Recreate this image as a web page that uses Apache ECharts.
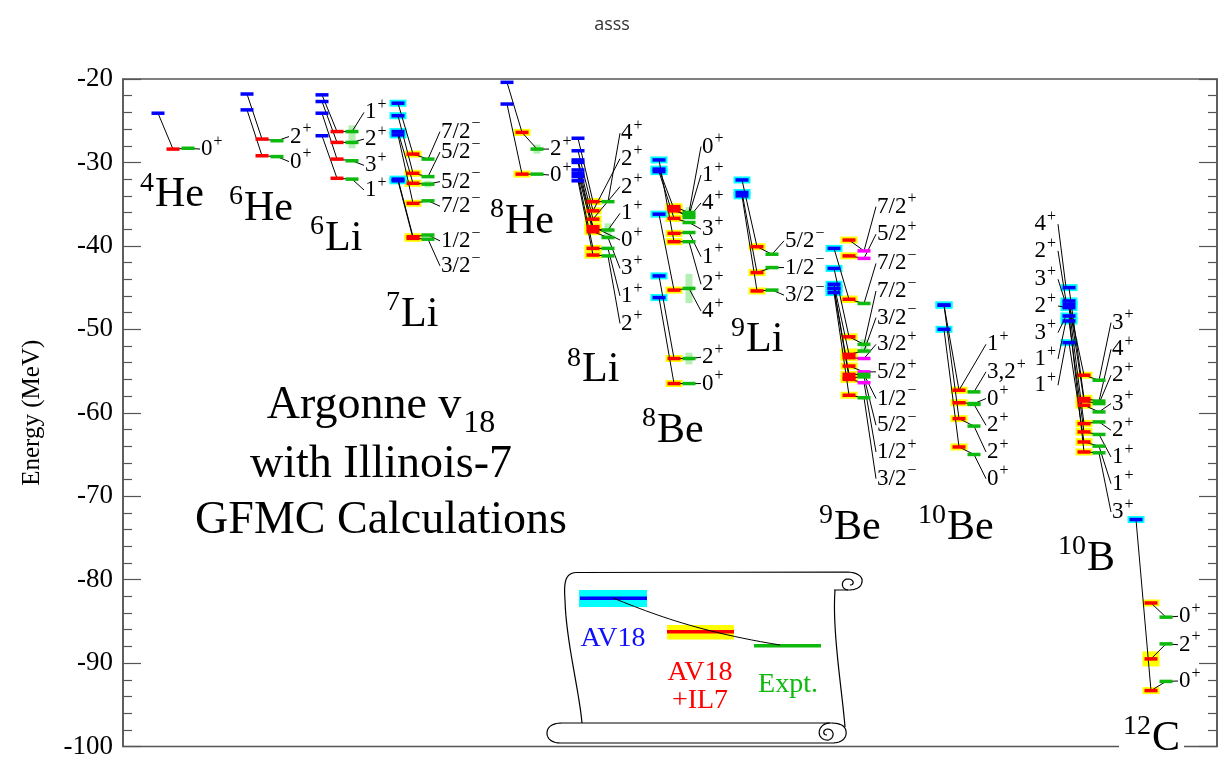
<!DOCTYPE html>
<html><head><meta charset="utf-8">
<script src="https://cdn.jsdelivr.net/npm/echarts@6/dist/echarts.min.js"></script>
<style>html,body{margin:0;padding:0;background:#fff}#c{width:1224px;height:760px}</style>
</head><body><div id="c"></div><script>
// ---------------- DATA (energies in MeV) ----------------
const yTickMin = -100, yTickMax = -20, yTickStep = 10;

const he4_jpi = ['0+'];
const he4_av18 = [-24.1];
const he4_il7 = [-28.4];
const he4_expt = [-28.3];

const he6_jpi = ['2+','0+'];
const he6_av18 = [-21.8,-23.7];
const he6_il7 = [-27.2,-29.2];
const he6_expt = [-27.4,-29.3];

const li6_jpi = ['1+','2+','3+','1+'];
const li6_av18 = [-21.9,-22.7,-24.1,-26.8];
const li6_il7 = [-26.3,-27.6,-29.6,-31.9];
const li6_expt = [-26.3,-27.6,-29.8,-32.0];
const li6_exptWidth = [1.5,1.4,0,0];

const li7_jpi = ['7/2-','5/2-','5/2-','7/2-','1/2-','3/2-'];
const li7_av18 = [-22.9,-24.4,-26.3,-26.7,-32.0,-32.2];
const li7_av18Err = [0.1,0.1,0.25,0.25,0.2,0.2];
const li7_il7 = [-29.0,-31.3,-32.5,-34.9,-38.9,-39.1];
const li7_il7Err = [0.2,0.2,0.2,0.35,0.15,0.15];
const li7_expt = [-29.6,-31.7,-32.6,-34.6,-38.7,-39.2];
const li7_exptWidth = [0,0,0.8,0,0,0];

const he8_jpi = ['2+','0+'];
const he8_av18 = [-20.4,-23.0];
const he8_il7 = [-26.4,-31.4];
const he8_il7Err = [0.4,0.2];
const he8_expt = [-28.4,-31.4];
const he8_exptWidth = [1.1,0];

const li8_jpi = ['4+','2+','2+','1+','0+','3+','1+','2+'];
const li8_av18 = [-27.1,-28.6,-29.7,-30.0,-30.9,-31.3,-31.7,-32.2];
const li8_il7 = [-34.7,-35.8,-36.8,-38.0,-37.7,-38.3,-40.3,-41.1];
const li8_il7Err = [0.35,0.2,0.2,0.4,0.4,0.3,0.25,0.25];
const li8_expt = [-34.7,null,null,-38.1,null,-39.0,-40.3,-41.2];
const li8_exptWidth = [0,0,0,1.6,0,0,0,0];

const be8_jpi = ['0+','1+','4+','3+','1+','2+','4+','2+','0+'];
const be8_av18 = [null,null,-30.8,-31.1,null,-29.7,-36.2,-43.6,-46.2];
const be8_av18Err = [0,0,0.2,0.2,0,0.2,0.25,0.15,0.15];
const be8_il7 = [-35.3,-35.8,-35.6,-36.7,-38.5,-39.5,-45.3,-53.5,-56.5];
const be8_il7Err = [0.35,0.35,0.35,0.3,0.2,0.2,0.4,0.25,0.2];
const be8_expt = [-36.0,-36.3,-36.6,-37.2,-38.4,-39.5,-45.1,-53.5,-56.5];
const be8_exptWidth = [1.3,0,0,0,0,0,3.5,1.4,0];

const li9_jpi = ['5/2-','1/2-','3/2-'];
const li9_av18 = [-32.1,-33.6,-34.0];
const li9_av18Err = [0.3,0.3,0.3];
const li9_il7 = [-40.1,-43.2,-45.4];
const li9_il7Err = [0.4,0.4,0.15];
const li9_expt = [-41.0,-42.6,-45.3];

const be9_jpi = ['7/2+','5/2+','7/2-','7/2-','3/2-','3/2+','5/2+','1/2-','5/2-','1/2+','3/2-'];
const be9_av18 = [null,null,-40.3,-42.7,-44.6,null,null,-45.1,-45.1,null,-45.6];
const be9_av18Err = [0,0,0.3,0.25,0.25,0,0,0.25,0.25,0,0.25];
const be9_il7 = [-39.3,-41.2,-46.4,-50.9,-53.0,-53.4,-54.4,-55.4,-55.8,-56.0,-57.9];
const be9_il7Err = [0.2,0.2,0.45,0.25,0.7,0.3,0.3,0.3,0.4,0.3,0.25];
const be9_expt = [-40.6,-41.5,-46.9,-51.8,-52.6,-53.5,-55.1,-55.4,-55.7,-56.4,-58.2];
const be9_exptWidth = [0,0,0,1.2,0.6,0,0,0,0,0,0];

const be10_jpi = ['1+','3,2+','0+','2+','2+','0+'];
const be10_av18 = [-47.1,null,null,null,-47.1,-50.0];
const be10_av18Err = [0.25,0,0,0,0.25,0.25];
const be10_il7 = [-57.3,null,-58.8,null,-60.7,-64.1];
const be10_il7Err = [0.4,0,0.25,0,0.2,0.35];
const be10_expt = [null,-57.5,-58.9,-59.0,-61.6,-65.0];

const b10_jpi = ['3+','4+','2+','3+','2+','1+','1+','3+'];
const b10_av18 = [-47.0,-45.0,-46.6,null,-47.4,-49.0,-51.6,-48.4];
const b10_av18Err = [0.35,0.4,0.35,0,0.35,0.35,0.4,0.35];
const b10_il7 = [-55.5,-58.3,-58.6,-59.1,-61.3,-62.3,-63.5,-64.7];
const b10_il7Err = [0.4,0.45,0.45,0.4,0.45,0.45,0.45,0.4];
const b10_expt = [-56.1,-58.6,-58.9,-59.9,-61.1,-62.6,-64.0,-64.8];
const b10_av18Jpi = ['4+','2+','3+','2+','3+','1+','1+'];

const c12_jpi = ['0+','2+','0+'];
const c12_av18 = [null,null,-72.8];
const c12_av18Err = [0,0,0.3];
const c12_il7 = [-82.8,-89.5,-93.3];
const c12_il7Err = [0.4,0.9,0.35];
const c12_expt = [-84.5,-87.7,-92.2];

const nucSup = ['4','6','6','7','8','8','8','9','9','10','10','12'];
const nucEl  = ['He','He','Li','Li','He','Li','Be','Li','Be','Be','B','C'];

// ---------------- LAYOUT (positions / styles) ----------------
const layout = {
  he4: {x:158,  labelE:[-28.4], name:[154,-33.93]},
  he6: {x:247,  labelE:[-26.9,-29.9], name:[243,-35.53]},
  li6: {x:322,  labelE:[-24.0,-27.2,-30.35,-33.3], name:[324,-39.12]},
  li7: {x:398,  labelE:[-26.3,-28.75,-32.3,-35.25,-39.4,-42.4], name:[400,-48.23]},
  he8: {x:507,  labelE:[-28.4,-31.5], name:[504,-37.09]},
  li8: {x:578,  labelE:[-26.5,-29.55,-32.9,-36.1,-39.3,-42.7,-46.0,-49.3], name:[581,-54.91]},
  be8: {x:659,  labelE:[-28.1,-31.5,-34.85,-38.0,-41.3,-44.6,-47.8,-53.35,-56.5], name:[656,-62.2]},
  li9: {x:742,  labelE:[-39.4,-42.6,-45.9], name:[745,-51.33]},
  be9: {x:834,  labelE:[-35.3,-38.6,-42.1,-45.4,-48.6,-51.8,-55.1,-58.3,-61.5,-64.7,-67.9], name:[833,-73.78], magentaPositive:true},
  be10:{x:944,  labelE:[-51.8,-55.1,-58.3,-61.5,-64.7,-67.9], name:[946,-73.78]},
  b10: {x:1069, labelE:[-49.2,-52.4,-55.5,-58.9,-62.1,-65.3,-68.5,-71.9], leftLabelE:[-37.4,-40.6,-44.0,-47.2,-50.4,-53.55,-56.7], name:[1086,-77.48]},
  c12: {x:1136, labelE:[-84.4,-87.8,-92.15], name:[1151,-99.09], whiteBox:true}
};
const DX_RED = 15, DX_GREEN = 30, DX_LABEL = 43, BAR_W = 13, BAR_H = 3.5;
const FONT = '"Liberation Serif","Times New Roman",serif';
const LBL_FS = 23, SGN_FS = 16, EL_FS = 42, SUP_FS = 28;
const COLORS = {blue:'#0000ff', red:'#ff0000', green:'#0cb90c', magenta:'#ff00ff'};
const HALO = ['#00ffff', '#ffff00', '#b4efb4'];

const keys = ['he4','he6','li6','li7','he8','li8','be8','li9','be9','be10','b10','c12'];
function opt(name) { try { return eval(name); } catch (e) { return []; } }
const src = {};
keys.forEach(k => {
  src[k] = {
    jpi: eval(k + '_jpi'), av18: eval(k + '_av18'), il7: eval(k + '_il7'), expt: eval(k + '_expt'),
    av18Err: opt(k + '_av18Err'), il7Err: opt(k + '_il7Err'), exptWidth: opt(k + '_exptWidth')
  };
});

// ---------------- build series data ----------------
const haloData = [], barData = [], connData = [], labelData = [], labelText = [], labelAlign = [];
keys.forEach(k => {
  const n = src[k], L = layout[k];
  const xb = L.x, xr = L.x + DX_RED, xg = L.x + DX_GREEN, xl = L.x + DX_LABEL;
  n.jpi.forEach((j, i) => {
    const a = n.av18[i], r = n.il7[i], g = n.expt[i];
    if (a != null) { barData.push([xb, a, 0]); if (n.av18Err[i]) haloData.push([xb, a, n.av18Err[i], 0]); }
    if (r != null) { barData.push([xr, r, 1]); if (n.il7Err[i]) haloData.push([xr, r, n.il7Err[i], 1]); }
    if (g != null) {
      const mag = L.magentaPositive && j.slice(-1) === '+';
      barData.push([xg, g, mag ? 3 : 2]);
      if (n.exptWidth[i]) haloData.push([xg, g, n.exptWidth[i] / 2, 2]);
    }
    if (a != null && r != null) connData.push([xb, a, xr, r]);
    if (r != null && g != null) connData.push([xr, r, xg, g]);
    const last = g != null ? [xg, g] : [xr, r];
    connData.push([last[0], last[1], xl - 1, L.labelE[i]]);
    labelData.push([xl, L.labelE[i]]); labelText.push(j); labelAlign.push('left');
  });
  if (k === 'b10') {
    const sorted = n.av18.filter(v => v != null).sort((p, q) => q - p);
    b10_av18Jpi.forEach((j, i) => {
      const xlr = xb - BAR_W;
      connData.push([xlr + 2, L.leftLabelE[i], xb - 3, sorted[i]]);
      labelData.push([xlr, L.leftLabelE[i]]); labelText.push(j); labelAlign.push('right');
    });
  }
});
const nameData = keys.map(k => [layout[k].name[0], layout[k].name[1]]);

// ---------------- helpers ----------------
const mctx = document.createElement('canvas').getContext('2d');
function tw(s, size) { mctx.font = size + 'px ' + FONT; return mctx.measureText(s).width; }
function txt(x, y, s, size, color, align, valign) {
  return {type:'text', x:x, y:y, style:{text:s, fontSize:size, fontFamily:FONT, fill:color,
    align:align, verticalAlign:valign, textAlign:align, textVerticalAlign:valign}};
}
function bez(p0, p1, p2, p3, n) {
  const pts = [];
  for (let i = 0; i <= n; i++) {
    const t = i / n, u = 1 - t;
    pts.push([u*u*u*p0[0] + 3*u*u*t*p1[0] + 3*u*t*t*p2[0] + t*t*t*p3[0],
              u*u*u*p0[1] + 3*u*u*t*p1[1] + 3*u*t*t*p2[1] + t*t*t*p3[1]]);
  }
  return pts;
}
function chain(segs) {
  let pts = [];
  segs.forEach(s => {
    const p = s.length === 2 ? [s[0], s[1]] : bez(s[0], s[1], s[2], s[3], 16);
    pts = pts.length ? pts.concat(p.slice(1)) : p;
  });
  return pts;
}

// ---------------- render functions ----------------
function renderConn(params, api) {
  const p1 = api.coord([api.value(0), api.value(1)]);
  const p2 = api.coord([api.value(2), api.value(3)]);
  return {type:'line', shape:{x1:p1[0], y1:p1[1], x2:p2[0], y2:p2[1]}, style:{stroke:'#000', lineWidth:1}};
}
function renderHalo(params, api) {
  const x = api.value(0), e = api.value(1), h = api.value(2), k = api.value(3);
  const pt = api.coord([x, e + h]), pb = api.coord([x, e - h]), pc = api.coord([x, e]);
  let ht = pb[1] - pt[1];
  const w = k === 2 ? 7 : BAR_W + 4;
  if (k !== 2) ht = Math.max(ht, 7);
  return {type:'rect', shape:{x:pc[0] - w/2, y:pc[1] - ht/2, width:w, height:ht}, style:{fill:HALO[k]}};
}
function renderBar(params, api) {
  const p = api.coord([api.value(0), api.value(1)]);
  const c = [COLORS.blue, COLORS.red, COLORS.green, COLORS.magenta][api.value(2)];
  return {type:'rect', shape:{x:p[0] - BAR_W/2, y:p[1] - BAR_H/2, width:BAR_W, height:BAR_H}, style:{fill:c}};
}
function renderLabel(params, api) {
  const i = params.dataIndex;
  const p = api.coord([api.value(0), api.value(1)]);
  const s = labelText[i];
  const main = s.slice(0, -1), sign = s.slice(-1) === '-' ? '\u2212' : '+';
  const mw = tw(main, LBL_FS), sw = tw(sign, SGN_FS);
  const x0 = labelAlign[i] === 'left' ? p[0] : p[0] - mw - sw - 1;
  return {type:'group', children:[
    txt(x0, p[1], main, LBL_FS, '#000', 'left', 'middle'),
    txt(x0 + mw + 1, p[1] - 7.5, sign, SGN_FS, '#000', 'left', 'middle')
  ]};
}
function renderName(params, api) {
  const i = params.dataIndex;
  const p = api.coord([api.value(0), api.value(1)]);
  const children = [];
  if (layout[keys[i]].whiteBox) {
    const sw = tw(nucSup[i], SUP_FS), ew = tw(nucEl[i], EL_FS);
    children.push({type:'rect', shape:{x:p[0] - sw - 4, y:p[1] - 30, width:sw + ew + 9, height:52}, style:{fill:'#fff'}});
  }
  children.push(txt(p[0], p[1] - 12, nucSup[i], SUP_FS, '#000', 'right', 'middle'));
  children.push(txt(p[0] + 1, p[1], nucEl[i], EL_FS, '#000', 'left', 'middle'));
  return {type:'group', children:children};
}

// ---------------- decorations (annotation + scroll legend) ----------------
const g = [];
(function () {
  const w1 = tw('Argonne v', 46), w2 = tw('18', 32);
  const x0 = 381 - (w1 + w2 + 2) / 2;
  g.push(txt(x0, 406, 'Argonne v', 46, '#000', 'left', 'middle'));
  g.push(txt(x0 + w1 + 2, 424, '18', 32, '#000', 'left', 'middle'));
  g.push(txt(381, 464.5, 'with Illinois-7', 46, '#000', 'center', 'middle'));
  g.push(txt(381, 521, 'GFMC Calculations', 46, '#000', 'center', 'middle'));
  const scroll = [
    chain([[[582,723],[579,690],[566,640],[565,600]], [[565,600],[564,585],[564,573],[576,572.5]],
           [[576,572.5],[846,572]], [[846,572],[858,572],[863,577],[862,582]],
           [[862,582],[861,588],[855,590],[848,590]], [[848,590],[834,590]]]),
    chain([[[848,590],[840,589],[841,579],[848,579]], [[848,579],[854,579],[855,585],[850,585]]]),
    chain([[[835,590],[832,630],[842,690],[845,727]]]),
    chain([[[832,723],[562,723]], [[562,723],[551,723],[547,728],[547,733]], [[547,733],[547,739],[552,743],[561,743]],
           [[561,743],[832,743]], [[832,743],[843,743],[847,737],[846,731]], [[846,731],[845,725],[839,723],[830,723]]]),
    chain([[[830,723],[818,723],[815,738],[826,740]], [[826,740],[834,741],[836,730],[828,729]], [[828,729],[823,729],[822,735],[827,735]]])
  ];
  scroll.forEach(pts => g.push({type:'polyline', shape:{points:pts}, style:{stroke:'#000', lineWidth:1.2, fill:null}}));
  g.push({type:'rect', shape:{x:579, y:590, width:68, height:17}, style:{fill:HALO[0]}});
  g.push({type:'rect', shape:{x:667, y:625, width:67, height:14.5}, style:{fill:HALO[1]}});
  g.push({type:'line', shape:{x1:580, y1:598.3, x2:647, y2:598.3}, style:{stroke:COLORS.blue, lineWidth:3.5}});
  g.push({type:'line', shape:{x1:667, y1:631.8, x2:734, y2:631.8}, style:{stroke:COLORS.red, lineWidth:3.5}});
  g.push({type:'line', shape:{x1:754, y1:645.7, x2:821, y2:645.7}, style:{stroke:COLORS.green, lineWidth:3.5}});
  g.push({type:'polyline', shape:{points:bez([613,598],[655,615],[700,632],[780,645],24)}, style:{stroke:'#000', lineWidth:1, fill:null}});
  g.push(txt(613, 639, 'AV18', 28, '#1010ff', 'center', 'middle'));
  g.push(txt(700, 673, 'AV18', 28, '#ff0000', 'center', 'middle'));
  g.push(txt(700, 701, '+IL7', 28, '#ff0000', 'center', 'middle'));
  g.push(txt(788, 685, 'Expt.', 28, '#0cb90c', 'center', 'middle'));
})();

// ---------------- chart ----------------
const chart = echarts.init(document.getElementById('c'), null, {renderer:'canvas'});
const tickStyle = {color:'#555', width:1.2};
const baseY = {
  type:'value', min:yTickMin, max:yTickMax, interval:yTickStep,
  axisLine:{show:true, lineStyle:{color:'#555', width:1.5}},
  axisTick:{show:true, inside:true, length:18, lineStyle:tickStyle},
  minorTick:{show:true, splitNumber:5, length:9, lineStyle:tickStyle},
  splitLine:{show:false}, minorSplitLine:{show:false}
};
const common = {coordinateSystem:'cartesian2d', xAxisIndex:0, yAxisIndex:0, silent:true, animation:false, clip:false};
chart.setOption({
  animation:false,
  backgroundColor:'#fff',
  title:{text:'asss', left:'center', top:11, textStyle:{fontFamily:'"Open Sans","Noto Sans",sans-serif', fontSize:18, fontWeight:'normal', color:'#333'}},
  grid:{left:123, right:7, top:79, bottom:11, show:true, borderColor:'#555', borderWidth:1.5, backgroundColor:'transparent'},
  xAxis:{type:'value', min:123, max:1217, show:false},
  yAxis:[
    Object.assign({}, baseY, {position:'left',
      axisLabel:{fontFamily:'Liberation Serif', fontSize:27, color:'#000', margin:10},
      name:'Energy (MeV)', nameLocation:'middle', nameGap:78,
      nameTextStyle:{fontFamily:'Liberation Serif', fontSize:25, color:'#000'}}),
    Object.assign({}, baseY, {position:'right', axisLabel:{show:false}})
  ],
  graphic:{elements:g.map(e => Object.assign({z:50, silent:true}, e))},
  series:[
    Object.assign({type:'custom', name:'halos', z:2, renderItem:renderHalo, data:haloData}, common),
    Object.assign({type:'custom', name:'connectors', z:3, renderItem:renderConn, data:connData}, common),
    Object.assign({type:'custom', name:'levels', z:4, renderItem:renderBar, data:barData}, common),
    Object.assign({type:'custom', name:'jpi', z:5, renderItem:renderLabel, data:labelData}, common),
    Object.assign({type:'custom', name:'nuclei', z:6, renderItem:renderName, data:nameData}, common)
  ]
});
</script></body></html>
